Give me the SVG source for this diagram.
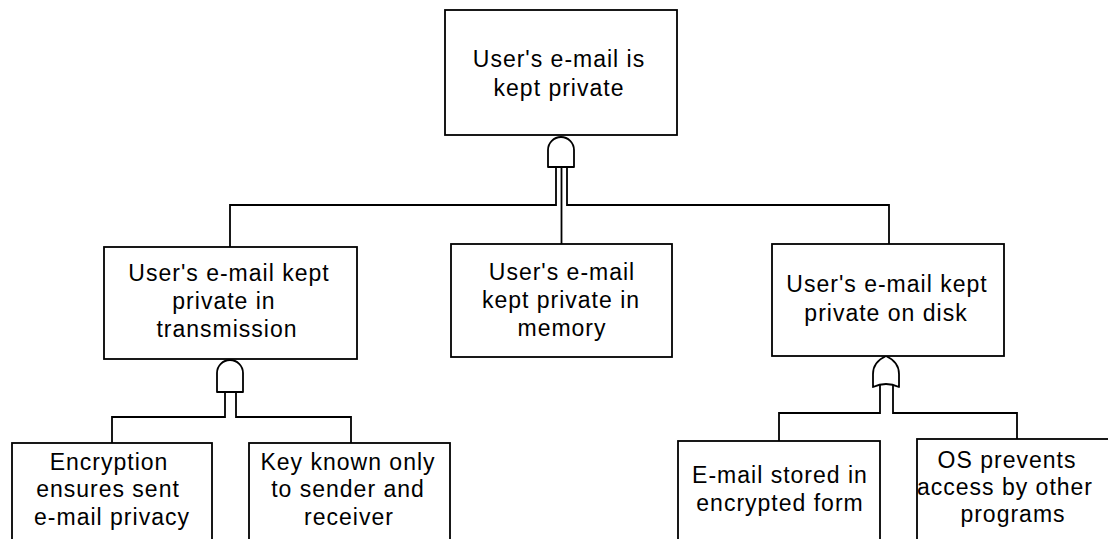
<svg xmlns="http://www.w3.org/2000/svg" width="1108" height="539" viewBox="0 0 1108 539">
  <style>
    .box { fill: #ffffff; stroke: #000000; stroke-width: 1.8; }
    .gate { fill: #ffffff; stroke: #000000; stroke-width: 1.8; stroke-linejoin: round; }
    .wire { fill: none; stroke: #000000; stroke-width: 1.8; }
    .label { font-family: "Liberation Sans", Arial, sans-serif; font-size: 23px; letter-spacing: 1px; fill: #000000; text-anchor: middle; }
  </style>
  <rect width="1108" height="539" fill="#ffffff"/>

  <!-- connectors from gates to child goals -->
  <g id="connectors">
    <!-- top AND gate -->
    <path class="wire" d="M556,167 V205 H230 V247"/>
    <path class="wire" d="M561.5,167 V244"/>
    <path class="wire" d="M567,167 V205 H889 V244"/>
    <!-- transmission AND gate -->
    <path class="wire" d="M225,392 V417 H112 V443"/>
    <path class="wire" d="M236,392 V417 H351 V443"/>
    <!-- disk OR gate -->
    <path class="wire" d="M880,385 V413 H779 V441"/>
    <path class="wire" d="M893,385 V413 H1017 V439"/>
  </g>

  <!-- gates -->
  <g id="gate-and-top">
    <path class="gate" d="M548,167 V150 A13,13 0 0 1 574,150 V167 Z"/>
  </g>
  <g id="gate-and-transmission">
    <path class="gate" d="M217,392 V373 A13,13 0 0 1 243,373 V392 Z"/>
  </g>
  <g id="gate-or-disk">
    <path class="gate" d="M873,387 V374 Q873,362 886,356 Q899,362 899,374 V387 Q886,381 873,387 Z"/>
  </g>

  <!-- goal nodes -->
  <g id="node-root">
    <rect class="box" x="445" y="10" width="232" height="125"/>
    <text class="label" x="559" y="67">User's e-mail is</text>
    <text class="label" x="559" y="96">kept private</text>
  </g>

  <g id="node-transmission">
    <rect class="box" x="104" y="247" width="253" height="112"/>
    <text class="label" x="229" y="281">User's e-mail kept</text>
    <text class="label" x="224" y="309">private in</text>
    <text class="label" x="227" y="337">transmission</text>
  </g>

  <g id="node-memory">
    <rect class="box" x="451" y="244" width="221" height="113"/>
    <text class="label" x="562" y="280">User's e-mail</text>
    <text class="label" x="561" y="308">kept private in</text>
    <text class="label" x="562" y="336">memory</text>
  </g>

  <g id="node-disk">
    <rect class="box" x="772" y="244" width="232" height="112"/>
    <text class="label" x="887" y="292">User's e-mail kept</text>
    <text class="label" x="886" y="321">private on disk</text>
  </g>

  <g id="node-encryption">
    <rect class="box" x="12" y="443" width="200" height="110"/>
    <text class="label" x="109" y="470">Encryption</text>
    <text class="label" x="108" y="497">ensures sent</text>
    <text class="label" x="112" y="525">e-mail privacy</text>
  </g>

  <g id="node-key">
    <rect class="box" x="249" y="443" width="201" height="110"/>
    <text class="label" x="348" y="470">Key known only</text>
    <text class="label" x="348" y="497">to sender and</text>
    <text class="label" x="349" y="525">receiver</text>
  </g>

  <g id="node-encrypted-storage">
    <rect class="box" x="678" y="441" width="202" height="110"/>
    <text class="label" x="780" y="483">E-mail stored in</text>
    <text class="label" x="780" y="511">encrypted form</text>
  </g>

  <g id="node-os">
    <rect class="box" x="917" y="439" width="203" height="112"/>
    <text class="label" x="1007" y="468">OS prevents</text>
    <text class="label" x="1005" y="495">access by other</text>
    <text class="label" x="1013" y="522">programs</text>
  </g>
</svg>
